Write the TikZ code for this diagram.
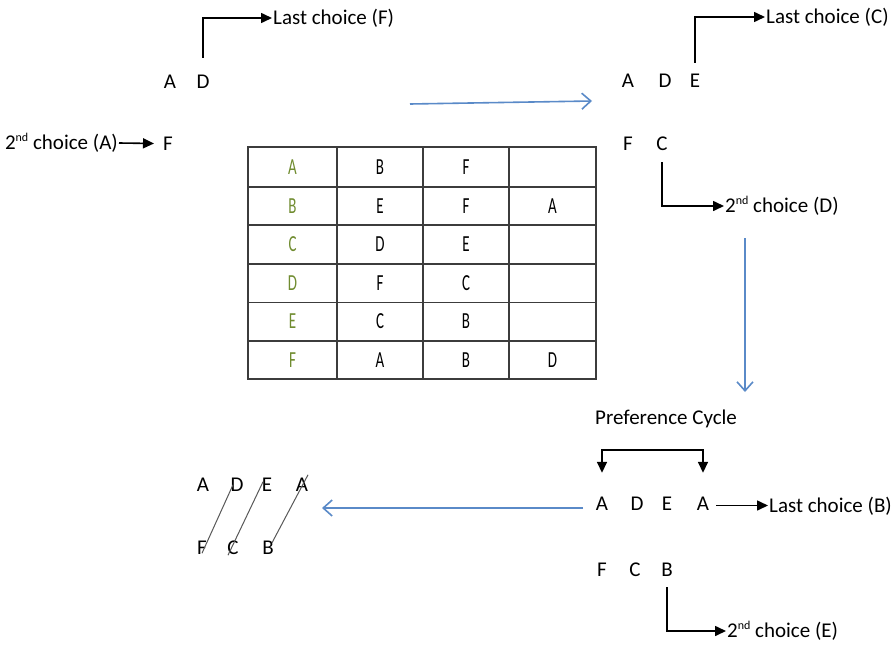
\documentclass[tikz,border=0pt]{standalone}
\usepackage{fontspec}
\setmainfont{Carlito}
\usepackage{graphicx}
\usetikzlibrary{arrows.meta,calc}
\definecolor{cellgreen}{RGB}{112,140,48}
\definecolor{bluearrow}{RGB}{90,138,200}
\definecolor{tblline}{RGB}{60,60,60}
\newcommand{\tcx}[1]{\scalebox{0.65}[1]{#1}}
\newcommand{\ndsup}{\raisebox{0.75ex}{\fontsize{12}{13}\selectfont nd}}
\begin{document}
\begin{tikzpicture}[x=1pt,y=-1pt,
  every node/.style={font=\fontsize{21}{25}\selectfont},
  ltr/.style={inner sep=0pt,text height=13pt,text depth=0pt,anchor=base},
  lbl/.style={inner sep=1pt,anchor=west},
  blk/.style={line width=1.6pt,-{Triangle[length=11pt,width=10pt]}},
  blkboth/.style={line width=1.6pt,{Triangle[length=11pt,width=10pt]}-{Triangle[length=11pt,width=10pt]}},
  blu/.style={draw=bluearrow,line width=1.6pt,-{Straight Barb[length=9pt,width=16pt]}},
  tbl/.style={draw=tblline,line width=1.6pt},
  cell/.style={inner sep=0pt,font=\fontsize{23}{26}\selectfont},
  hcell/.style={cell,text=cellgreen},
  slash/.style={draw=black!65,line width=1pt}]
\fill[white] (0,0) rectangle (895,645);
\useasboundingbox (0,0) rectangle (895,645);

% ---------- top left ----------
\node[ltr] (tA) at (170,88) {A};
\node[ltr] (tD) at (203,88) {D};
\node[lbl] (lastF) at (272,18) {Last choice (F)};
\draw[blk] ($(tD.north)+(0,-17)$) |- (lastF.west);
\node[ltr] (tF) at (168,150) {F};
\node[inner sep=1pt,anchor=east] (sndA) at (119,143) {2\ndsup{} choice (A)};
\draw[blk] (sndA.east) -- ($(tF.west)+(-9,0)$);

% ---------- top right ----------
\node[ltr] (rA) at (628,87) {A};
\node[ltr] (rD) at (665,87) {D};
\node[ltr] (rE) at (695,87) {E};
\node[lbl] (lastC) at (765,17) {Last choice (C)};
\draw[blk] ($(rE.north)+(0,-11)$) |- (lastC.west);
\node[ltr] (rF) at (628,150) {F};
\node[ltr] (rC) at (662,150) {C};
\node[lbl] (sndD) at (724,206) {2\ndsup{} choice (D)};
\draw[blk] ($(rC.south)+(0,12)$) |- (sndD.west);

% ---------- table ----------
\draw[tbl] (248,147) rectangle (596,379);
\foreach \yy in {186.7,225,264,302.3,340.7} \draw[tbl] (248,\yy) -- (596,\yy);
\foreach \xx in {337,423,509} \draw[tbl] (\xx,147) -- (\xx,379);
\node[hcell] (c11) at (292.5,167) {\tcx{A}};
\node[cell] (c12) at (380,167) {\tcx{B}};
\node[cell] (c13) at (466,167) {\tcx{F}};
\node[hcell] (c21) at (292.5,205.7) {\tcx{B}};
\node[cell] (c22) at (380,205.7) {\tcx{E}};
\node[cell] (c23) at (466,205.7) {\tcx{F}};
\node[cell] (c24) at (552.5,205.7) {\tcx{A}};
\node[hcell] (c31) at (292.5,244.5) {\tcx{C}};
\node[cell] (c32) at (380,244.5) {\tcx{D}};
\node[cell] (c33) at (466,244.5) {\tcx{E}};
\node[hcell] (c41) at (292.5,283) {\tcx{D}};
\node[cell] (c42) at (380,283) {\tcx{F}};
\node[cell] (c43) at (466,283) {\tcx{C}};
\node[hcell] (c51) at (292.5,321.5) {\tcx{E}};
\node[cell] (c52) at (380,321.5) {\tcx{C}};
\node[cell] (c53) at (466,321.5) {\tcx{B}};
\node[hcell] (c61) at (292.5,360) {\tcx{F}};
\node[cell] (c62) at (380,360) {\tcx{A}};
\node[cell] (c63) at (466,360) {\tcx{B}};
\node[cell] (c64) at (552.5,360) {\tcx{D}};

% ---------- blue arrows ----------
\coordinate (u1) at (410,104);
\coordinate (u2) at (592,101);
\draw[blu] (u1) -- (u2);
\coordinate (v1) at (745,238);
\coordinate (v2) at (745,392);
\draw[blu] (v1) -- (v2);
\coordinate (w1) at (583,508);
\coordinate (w2) at (322,508);
\draw[blu] (w1) -- (w2);

% ---------- bottom right ----------
\node[inner sep=1pt,anchor=base west] (pref) at (594,424) {Preference Cycle};
\node[ltr] (bA1) at (602,510) {A};
\node[ltr] (bD) at (637,510) {D};
\node[ltr] (bE) at (667,510) {E};
\node[ltr] (bA2) at (703,510) {A};
\draw[blkboth] ($(bA1.north)+(0,-24)$) |- ($(bA2.north)+(0,-47)$) -- ($(bA2.north)+(0,-24)$);
\node[lbl] (lastB) at (768,506) {Last choice (B)};
\coordinate (ls) at ($(bA2.east)+(7,2)$);
\draw[blk] (ls) -- (ls -| lastB.west);
\node[ltr] (bF) at (602,576) {F};
\node[ltr] (bC) at (635,576) {C};
\node[ltr] (bB) at (667,576) {B};
\node[lbl] (sndE) at (726,631) {2\ndsup{} choice (E)};
\draw[blk] ($(bB.south)+(0,11)$) |- (sndE.west);

% ---------- bottom left ----------
\node[ltr] (lA1) at (203,491) {A};
\node[ltr] (lD) at (237,491) {D};
\node[ltr] (lE) at (267,491) {E};
\node[ltr] (lA2) at (302,491) {A};
\node[ltr] (lF) at (202,554) {F};
\node[ltr] (lC) at (233,554) {C};
\node[ltr] (lB) at (268,554) {B};
\draw[slash] ($(lF.south)+(0,-1)$) -- ($(lD.north)+(-4,7)$);
\draw[slash] ($(lC.south)+(-5,1)$) -- ($(lE.north)+(-4,4)$);
\draw[slash] ($(lB.north)+(4,2)$) -- ($(lA2.north)+(6,-3)$);
\end{tikzpicture}
\end{document}
